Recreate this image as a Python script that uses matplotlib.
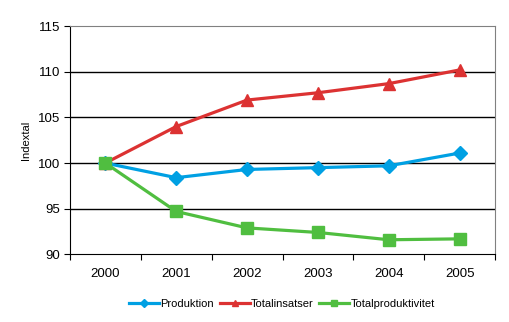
import matplotlib
matplotlib.use("Agg")
from matplotlib import pyplot as plt

plt.rcParams['font.family'] = ['Liberation Sans', 'DejaVu Sans']

years = ["2000", "2001", "2002", "2003", "2004", "2005"]
produktion = [100.0, 98.4, 99.3, 99.5, 99.7, 101.1]
totalinsatser = [100.0, 104.0, 106.9, 107.7, 108.7, 110.2]
totalproduktivitet = [100.0, 94.7, 92.9, 92.4, 91.6, 91.7]

fig = plt.figure(figsize=(5.1, 3.22), dpi=100)
ax = fig.add_axes([0.137, 0.21, 0.834, 0.709])

x = range(len(years))
ax.plot(x, produktion, color="#00A0E3", lw=2.3, marker="D", ms=7, label="Produktion", zorder=3)
ax.plot(x, totalinsatser, color="#DC3232", lw=2.3, marker="^", ms=8, label="Totalinsatser", zorder=3)
ax.plot(x, totalproduktivitet, color="#50BE40", lw=2.3, marker="s", ms=8, label="Totalproduktivitet", zorder=3)

ax.set_xlim(-0.5, 5.5)
ax.set_ylim(90, 115)
ax.set_yticks(range(90, 116, 5))
ax.set_xticks([i - 0.5 for i in range(7)])
ax.set_xticklabels([])
ax.set_xticks(list(x), minor=True)
ax.set_xticklabels(years, minor=True)
ax.tick_params(axis="x", which="major", direction="out", length=4, color="black")
ax.tick_params(axis="x", which="minor", length=0, pad=10, labelsize=9.5)
ax.tick_params(axis="y", direction="out", length=4, labelsize=9.5, pad=3)

for v in [95, 100, 105, 110]:
    ax.axhline(v, color="black", lw=1, zorder=1)
ax.spines["top"].set_color("#808080")
ax.spines["right"].set_color("#808080")
ax.spines["left"].set_color("black")
ax.spines["bottom"].set_color("black")

ax.set_ylabel("Indextal", fontsize=8, labelpad=5)

fig.legend(loc="lower center", bbox_to_anchor=(0.553, 0.01), ncol=3, frameon=False,
           fontsize=8, markerscale=0.6, handlelength=2.7, columnspacing=0.5, handletextpad=0.1)

plt.savefig("out.png", dpi=100)
